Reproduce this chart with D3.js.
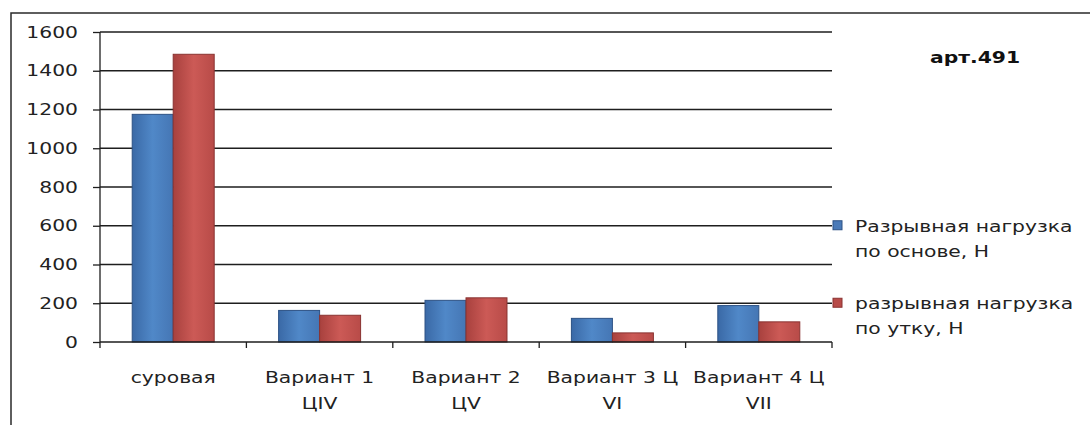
<!DOCTYPE html>
<html>
<head>
<meta charset="utf-8">
<script src="https://cdn.jsdelivr.net/npm/d3@7"></script>
<style>
  html, body { margin: 0; padding: 0; background: #fff; }
  svg { display: block; font-family: "DejaVu Sans", Verdana, sans-serif; }
</style>
</head>
<body>
<div id="chart"></div>
<script>
const categories = ['суровая', 'Вариант 1 ЦIV', 'Вариант 2 ЦV', 'Вариант 3 Ц VI', 'Вариант 4 Ц VII'];
const categoryLines = [['суровая'], ['Вариант 1', 'ЦIV'], ['Вариант 2', 'ЦV'], ['Вариант 3 Ц', 'VI'], ['Вариант 4 Ц', 'VII']];
const seriesNames = ['Разрывная нагрузка по основе, Н', 'разрывная нагрузка по утку, Н'];
const legendLines = [['Разрывная нагрузка', 'по основе, Н'], ['разрывная нагрузка', 'по утку, Н']];
const warpLoad = [1175, 163, 215, 122, 188];
const weftLoad = [1485, 138, 228, 47, 104];
const yTicks = [0, 200, 400, 600, 800, 1000, 1200, 1400, 1600];
const chartTitle = 'арт.491';

const width = 1090, height = 425;
const SX = 1.27; // picture is stretched horizontally
const plot = { left: 100, right: 832, top: 32, bottom: 342 };

const svg = d3.select('#chart').append('svg')
  .attr('width', width)
  .attr('height', height);

const defs = svg.append('defs');
const grads = [
  { id: 'gBlue', stops: ['#3a69a6', '#5088c8', '#4576b4'] },
  { id: 'gRed', stops: ['#a8413e', '#cc5a56', '#b84b48'] }
];
grads.forEach(g => {
  const lg = defs.append('linearGradient').attr('id', g.id)
    .attr('x1', '0%').attr('x2', '100%').attr('y1', '0%').attr('y2', '0%');
  g.stops.forEach((c, i) => lg.append('stop')
    .attr('offset', (i * 50) + '%').attr('stop-color', c));
});

// outer frame
svg.append('rect')
  .attr('x', 11).attr('y', 13)
  .attr('width', 1100).attr('height', 430)
  .attr('fill', 'none')
  .attr('stroke', '#2a2a2a')
  .attr('stroke-width', 1.5);

const y = d3.scaleLinear().domain([0, 1600]).range([plot.bottom, plot.top]);
const x0 = d3.scaleBand().domain(categories)
  .range([plot.left, plot.right])
  .paddingInner(0.44).paddingOuter(0.22);
const x1 = d3.scaleBand().domain(seriesNames).range([0, x0.bandwidth()]);
const colors = ['url(#gBlue)', 'url(#gRed)'];
const strokes = ['#2d5285', '#8a3331'];

// gridlines
svg.append('g')
  .selectAll('line')
  .data(yTicks.filter(d => d > 0))
  .join('line')
  .attr('x1', plot.left).attr('x2', plot.right)
  .attr('y1', d => y(d)).attr('y2', d => y(d))
  .attr('stroke', '#1e1e1e')
  .attr('stroke-width', 1.3);

// bars
const groups = svg.append('g')
  .selectAll('g')
  .data(categories)
  .join('g')
  .attr('transform', d => `translate(${x0(d)},0)`);

groups.selectAll('rect')
  .data((d, i) => [warpLoad[i], weftLoad[i]].map((v, k) => ({ v, k })))
  .join('rect')
  .attr('x', d => x1(seriesNames[d.k]))
  .attr('y', d => y(d.v))
  .attr('width', x1.bandwidth())
  .attr('height', d => y(0) - y(d.v))
  .attr('fill', d => colors[d.k])
  .attr('stroke', d => strokes[d.k])
  .attr('stroke-width', 1);

// y axis
const yAxis = svg.append('g')
  .attr('transform', `translate(${plot.left},0)`)
  .call(d3.axisLeft(y).tickValues(yTicks).tickSize(7).tickFormat(d => d));
yAxis.selectAll('path, line').attr('stroke', '#1e1e1e').attr('stroke-width', 1.3);
yAxis.select('.domain').attr('d', `M0,${plot.top}V${plot.bottom}`);
yAxis.selectAll('text')
  .attr('x', -22 / SX)
  .attr('transform', `scale(${SX},1)`)
  .attr('font-size', 16)
  .attr('font-family', '"DejaVu Sans", Verdana, sans-serif')
  .attr('fill', '#222');

// x axis line and category boundary ticks
svg.append('line')
  .attr('x1', plot.left).attr('x2', plot.right)
  .attr('y1', plot.bottom).attr('y2', plot.bottom)
  .attr('stroke', '#1e1e1e').attr('stroke-width', 1.3);
const bounds = d3.range(categories.length + 1).map(i => plot.left + i * x0.step());
svg.append('g').selectAll('line')
  .data(bounds)
  .join('line')
  .attr('x1', d => d).attr('x2', d => d)
  .attr('y1', plot.bottom).attr('y2', plot.bottom + 6)
  .attr('stroke', '#1e1e1e').attr('stroke-width', 1.3);

// category labels
categories.forEach((c, i) => {
  const cx = x0(c) + x0.bandwidth() / 2;
  const t = svg.append('text')
    .attr('transform', `translate(${cx},383) scale(${SX},1)`)
    .attr('text-anchor', 'middle')
    .attr('font-size', 16)
    .attr('fill', '#222');
  categoryLines[i].forEach((line, j) => {
    t.append('tspan').attr('x', 0).attr('y', j * 26).text(line);
  });
});

// title
svg.append('text')
  .attr('transform', `translate(975,63) scale(${SX},1)`)
  .attr('text-anchor', 'middle')
  .attr('font-size', 16)
  .attr('font-weight', 'bold')
  .attr('fill', '#111')
  .text(chartTitle);

// legend
const legendY = [y(600), y(200)];
const legendFill = ['#4a7ab8', '#b84b48'];
legendLines.forEach((lines, k) => {
  svg.append('rect')
    .attr('x', 833).attr('y', legendY[k] - 5)
    .attr('width', 9).attr('height', 9)
    .attr('fill', legendFill[k])
    .attr('stroke', strokes[k]);
  const t = svg.append('text')
    .attr('transform', `translate(855,${legendY[k] + 6}) scale(${SX},1)`)
    .attr('font-size', 16)
    .attr('fill', '#222');
  lines.forEach((line, j) => {
    t.append('tspan').attr('x', 0).attr('y', j * 25).text(line);
  });
});
</script>
</body>
</html>
